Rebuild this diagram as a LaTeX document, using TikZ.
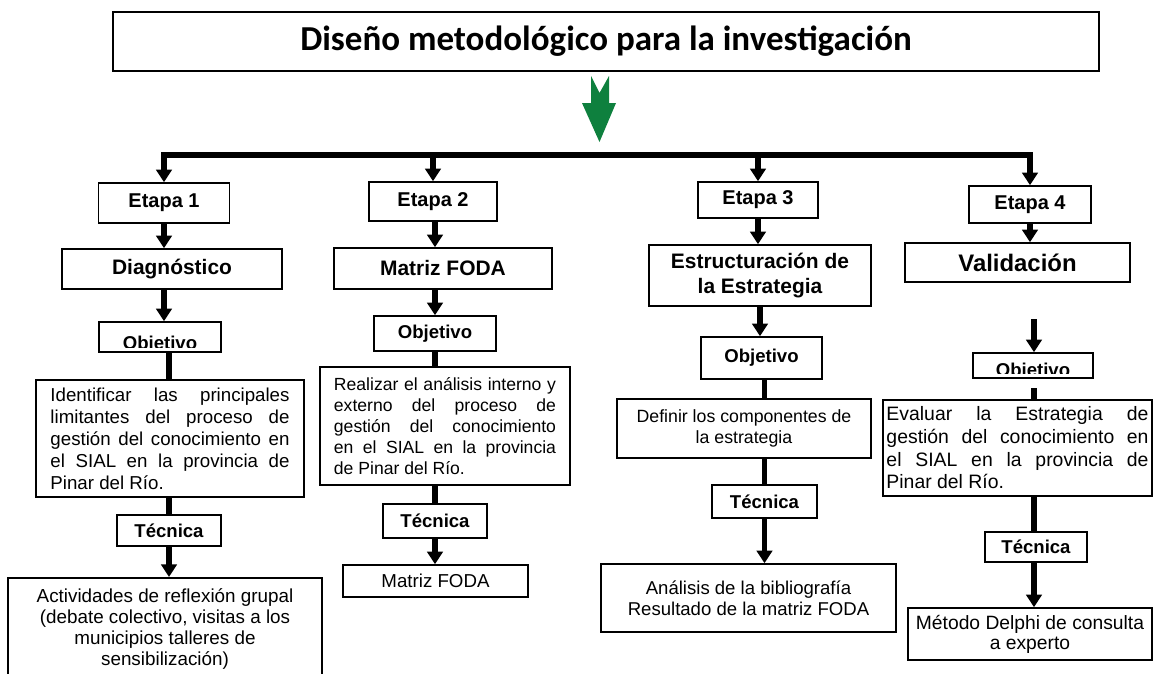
\documentclass[tikz,border=0pt]{standalone}
\usepackage{fontspec}
\setmainfont{Liberation Sans}
\newfontfamily\titlefont{Carlito}
\usetikzlibrary{arrows.meta,calc}

\definecolor{arrowgreen}{RGB}{14,128,62}

\tikzset{
  box/.style={draw, line width=1.1pt, fill=white, inner sep=0pt, align=center},
  conn/.style={line width=3.6pt},
  arr/.style={conn, -{Triangle[length=9pt,width=11pt]}},
  etapa/.style={box, font=\bfseries\fontsize{14.2pt}{17pt}\selectfont},
  head/.style={box, font=\bfseries\fontsize{14.9pt}{17.8pt}\selectfont},
  tag/.style={box, font=\bfseries\fontsize{13.2pt}{15pt}\selectfont},
  txt/.style={box, font=\fontsize{13.3pt}{15.6pt}\selectfont},
}

\begin{document}
\begin{tikzpicture}[x=0.025cm,y=-0.025cm]
  \useasboundingbox[fill=white] (0,0) rectangle (1153,673);

  \node[box, line width=1.3pt, minimum width=24.65cm, minimum height=1.475cm,
    font=\titlefont\bfseries\fontsize{24.9pt}{30pt}\selectfont] (title) at (606,41.5)
    {Diseño metodológico para la investigación};
  \fill[arrowgreen] (591,76) -- (599.5,93) -- (609,76) -- (609,103) -- (616,103)
    -- (599.5,142) -- (582,103) -- (591,103) -- cycle;

  \node[etapa, minimum width=3.275cm, minimum height=1cm] (etapa1) at (164,203) {Etapa 1};
  \node[etapa, minimum width=3.2cm, minimum height=0.975cm] (etapa2) at (433,201.5) {Etapa 2};
  \node[etapa, minimum width=3cm, minimum height=0.9cm] (etapa3) at (758,200) {Etapa 3};
  \node[etapa, minimum width=3.05cm, minimum height=0.925cm] (etapa4) at (1030,204.5) {Etapa 4};

  \coordinate (bus) at (600,155);
  \draw[conn, {Triangle[length=9pt,width=11pt]}-{Triangle[length=9pt,width=11pt]}]
    (etapa1.north) -- (etapa1.north |- bus) -- (etapa4.north |- bus) -- (etapa4.north);
  \draw[arr] (etapa2.north |- bus) -- (etapa2.north);
  \draw[arr] (etapa3.north |- bus) -- (etapa3.north);

  % etapa 1
  \node[head, minimum width=5.5cm, minimum height=1cm] (diag) at (172,269) {Diagnóstico};
  \node[tag, minimum width=3.05cm, minimum height=0.75cm] (obj1) at (160,337) {};
  \begin{scope}
    \clip ([yshift=3.6pt]obj1.south west) rectangle (obj1.north east);
    \node[font=\bfseries\fontsize{13.2pt}{15pt}\selectfont, anchor=base, inner sep=0pt]
      at ([yshift=2pt]obj1.south) {Objetivo};
  \end{scope}
  \node[txt, align=justify, text width=5.975cm, minimum width=6.7cm, minimum height=2.925cm]
    (ident) at (170,438.5) {Identificar las principales\linebreak limitantes del proceso de\linebreak
    gestión del conocimiento en\linebreak el SIAL en la provincia de\linebreak Pinar del Río.};
  \node[tag, minimum width=2.6cm, minimum height=0.775cm] (tec1) at (169,530.5) {Técnica};
  \node[box, minimum width=7.85cm, minimum height=3.1cm, anchor=north] (activ) at (165,577) {};
  \node[font=\fontsize{13.4pt}{15pt}\selectfont, align=center, inner sep=0pt, anchor=north]
    at ([yshift=-0.275cm]activ.north) {Actividades de reflexión grupal\\(debate colectivo, visitas a los\\
    municipios talleres de\\sensibilización)};

  \draw[arr] (etapa1.south) -- (etapa1.south |- diag.north);
  \draw[arr] (diag.south -| etapa1) -- (etapa1 |- obj1.north);
  \draw[conn] (obj1.south -| tec1) -- (tec1 |- ident.north);
  \draw[conn] (ident.south -| tec1) -- (tec1.north);
  \draw[arr] (tec1.south) -- (tec1 |- activ.north);

  % etapa 2
  \node[head, minimum width=5.45cm, minimum height=1.025cm] (matriz) at (443,268.5) {Matriz FODA};
  \node[tag, minimum width=3.05cm, minimum height=0.875cm] (obj2) at (435,333.5) {Objetivo};
  \node[txt, font=\fontsize{12.5pt}{14.8pt}\selectfont, align=justify,
    text width=5.55cm, minimum width=6.25cm, minimum height=2.95cm] (realiz) at (445,426)
    {\hyphenpenalty=10000\relax Realizar el análisis interno y\linebreak externo del proceso de\linebreak
    gestión del conocimiento\linebreak en el SIAL en la provincia\linebreak de Pinar del Río.};
  \node[tag, minimum width=2.6cm, minimum height=0.85cm] (tec2) at (435,521) {Técnica};
  \node[txt, minimum width=4.625cm, minimum height=0.8cm] (matriz2) at (435.5,581) {Matriz FODA};

  \draw[arr] (etapa2.south -| obj2) -- (obj2 |- matriz.north);
  \draw[arr] (matriz.south -| obj2) -- (obj2.north);
  \draw[conn] (obj2.south) -- (obj2 |- realiz.north);
  \draw[conn] (realiz.south -| tec2) -- (tec2.north);
  \draw[arr] (tec2.south) -- (tec2 |- matriz2.north);

  % etapa 3
  \node[head, minimum width=5.55cm, minimum height=1.525cm] (estr) at (760,275.5)
    {Estructuración de\\la Estrategia};
  \node[tag, minimum width=3.025cm, minimum height=1.05cm] (obj3) at (761.5,358) {Objetivo};
  \node[txt, font=\fontsize{12.6pt}{14.7pt}\selectfont, minimum width=6.35cm, minimum height=1.475cm]
    (defin) at (744,428.5) {Definir los componentes de\\la estrategia};
  \node[tag, minimum width=2.625cm, minimum height=0.825cm] (tec3) at (764.5,501.5) {Técnica};
  \node[txt, font=\fontsize{13.2pt}{15pt}\selectfont, minimum width=7.375cm, minimum height=1.7cm]
    (anal) at (748.5,598) {Análisis de la bibliografía\\Resultado de la matriz FODA};

  \draw[arr] (etapa3.south) -- (etapa3.south |- estr.north);
  \draw[arr] (estr.south) -- (estr.south |- obj3.north);
  \draw[conn] (obj3.south -| tec3) -- (tec3 |- defin.north);
  \draw[conn] (defin.south -| tec3) -- (tec3.north);
  \draw[arr] (tec3.south) -- (tec3 |- anal.north);

  % etapa 4
  \node[head, font=\bfseries\fontsize{17pt}{20pt}\selectfont, minimum width=5.625cm,
    minimum height=0.975cm] (valid) at (1017.5,262.5) {Validación};
  \node[tag, minimum width=3cm, minimum height=0.625cm] (obj4) at (1033,365.5) {};
  \begin{scope}
    \clip ([yshift=3.8pt]obj4.south west) rectangle (obj4.north east);
    \node[font=\bfseries\fontsize{13.2pt}{15pt}\selectfont, anchor=base, inner sep=0pt]
      at ([yshift=1.6pt]obj4.south) {Objetivo};
  \end{scope}
  \node[txt, font=\fontsize{13.8pt}{16.1pt}\selectfont, align=justify, text width=6.55cm,
    minimum width=6.725cm, minimum height=2.4cm] (evalu) at (1017.5,448)
    {Evaluar la Estrategia de\linebreak gestión del conocimiento en\linebreak
    el SIAL en la provincia de\linebreak Pinar del Río.};
  \node[tag, minimum width=2.55cm, minimum height=0.75cm] (tec4) at (1036,547) {Técnica};
  \node[txt, font=\fontsize{13.7pt}{14.2pt}\selectfont, minimum width=6.1cm, minimum height=1.3cm]
    (metodo) at (1030,634) {Método Delphi de consulta\\a experto};

  \coordinate (v4a) at (1034,319);
  \coordinate (v4b) at (1034,388);
  \draw[arr] (etapa4.south) -- (etapa4.south |- valid.north);
  \draw[arr] (v4a) -- (v4a |- obj4.north);
  \draw[conn] (v4b) -- (v4b |- evalu.north);
  \draw[conn] (evalu.south -| v4b) -- (v4b |- tec4.north);
  \draw[arr] (tec4.south -| v4b) -- (v4b |- metodo.north);
\end{tikzpicture}
\end{document}
